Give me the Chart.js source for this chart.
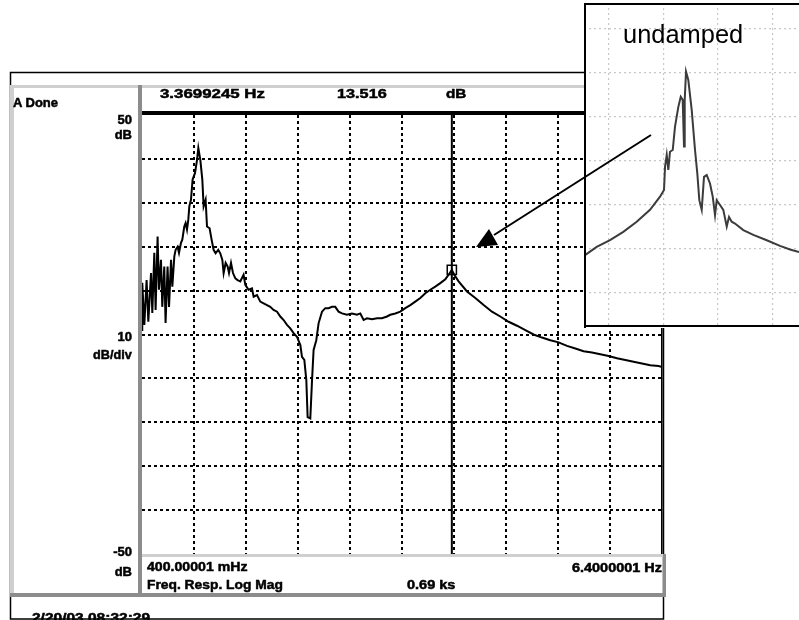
<!DOCTYPE html>
<html><head><meta charset="utf-8">
<script src="https://cdn.jsdelivr.net/npm/chart.js@4.4.1/dist/chart.umd.min.js"></script>
<style>
html,body{margin:0;padding:0;background:#fff;overflow:hidden;}
#wrap{position:relative;width:799px;height:620px;overflow:hidden;}
#wrap canvas{position:absolute;}
.lb{position:absolute;font-family:"Liberation Sans",Arial,sans-serif;font-weight:bold;font-size:13px;line-height:13px;color:#000;white-space:nowrap;transform-origin:left top;-webkit-text-stroke:0.5px #000;}
.rt{transform-origin:right top;}
.thin{-webkit-text-stroke:0;}
</style></head><body>
<div id="wrap">
<canvas id="main" width="799" height="620" style="left:0px;top:0px;"></canvas>
<canvas id="inset" width="215" height="325" style="left:584px;top:3px;"></canvas>
<canvas id="arrow" width="799" height="620" style="left:0px;top:0px;"></canvas>
</div>
<script>
// ---- main trace: frequency (Hz) and magnitude (dB) ----
const freqHz = [
0.400,0.403,0.427,0.453,0.473,0.504,0.519,0.542,0.557,0.580,
0.596,0.619,0.634,0.657,0.672,0.695,0.712,0.735,0.750,0.773,
0.788,0.811,0.827,0.850,0.865,0.888,0.903,0.919,0.934,0.946,
0.965,0.984,1.012,1.035,1.050,1.073,1.096,1.111,1.134,1.150,
1.180,1.203,1.226,1.249,1.280,1.303,1.327,1.342,1.365,1.388,
1.404,1.427,1.450,1.477,1.503,1.534,1.572,1.592,1.630,1.669,
1.688,1.727,1.765,1.803,1.842,1.880,1.918,1.958,1.996,2.034,
2.073,2.111,2.149,2.188,2.227,2.246,2.273,2.296,2.311,2.342,
2.362,2.380,2.411,2.438,2.477,2.515,2.553,2.592,2.630,2.668,
2.708,2.765,2.823,2.881,2.919,2.957,2.996,3.054,3.112,3.169,
3.227,3.265,3.323,3.380,3.438,3.496,3.553,3.611,3.669,3.727,
3.784,3.842,3.900,3.938,3.975,4.003,4.053,4.150,4.246,4.342,
4.438,4.534,4.630,4.727,4.823,4.918,5.015,5.111,5.207,5.304,
5.400,5.495,5.592,5.688,5.784,5.881,5.977,6.072,6.169,6.265,
6.361,6.400];
const magDb = [
1.0,11.8,2.2,12.4,2.9,14.0,4.9,18.6,5.6,22.3,
10.2,17.0,6.3,15.5,2.6,15.5,6.3,17.0,10.9,17.8,
19.3,20.0,18.6,20.9,21.6,24.6,25.4,23.9,26.1,29.2,
30.7,35.3,36.8,39.8,42.5,39.8,35.3,29.2,30.7,24.6,
24.2,21.6,19.3,18.5,19.3,18.5,17.0,14.0,16.3,15.5,
14.0,16.3,14.0,12.8,12.4,12.1,13.6,11.3,10.2,10.5,
8.6,9.0,7.5,7.1,6.7,6.3,5.6,5.2,4.1,3.3,
2.2,1.4,0.3,-0.5,-2.4,-5.1,-5.8,-10.4,-18.8,-19.1,
-10.4,-3.5,-1.3,2.6,5.2,6.0,6.0,6.3,6.3,5.2,
4.8,4.5,4.8,4.5,4.8,3.3,3.7,3.5,3.7,3.7,
4.1,4.5,4.8,5.2,6.0,6.7,7.5,8.3,9.4,10.2,
10.9,11.7,12.6,13.6,14.7,13.6,12.1,9.8,8.3,6.7,
5.2,4.1,2.9,2.0,1.0,0.0,-0.7,-1.3,-1.8,-2.6,
-3.2,-3.8,-4.1,-4.5,-4.9,-5.4,-5.8,-6.2,-6.6,-7.0,
-7.2,-7.4];
// marker
const markerFreq = 3.975;
const markerDb = 14.7;
// axis grid ticks (10 divisions each)
const xTicks = [0.4,1.0,1.6,2.2,2.8,3.4,4.0,4.6,5.2,5.8,6.4];
const yTicks = [-50,-40,-30,-20,-10,0,10,20,30,40,50];
// readout texts
const headerTexts = ["3.3699245 Hz","13.516","dB"];
const yAxisTexts = ["50","dB","10","dB/div","-50","dB"];
const footerTexts = ["400.00001 mHz","6.4000001 Hz","Freq. Resp. Log Mag","0.69 ks"];
const statusText = "A Done";
const stampText = "2/20/03  08:32:29";
// ---- inset ("undamped") trace, in inset grid divisions ----
const insetX = [0.560,0.774,1.018,1.262,1.508,1.752,1.936,2.009,2.028,2.059,2.088,2.119,2.169,2.211,2.272,2.316,2.352,2.376,2.389,2.413,2.455,2.517,2.578,2.620,2.657,2.701,2.743,2.793,2.853,2.903,2.945,2.976,3.037,3.097,3.160,3.202,3.251,3.312,3.464,3.648,3.894,4.138,4.321,4.486];
const insetY = [0.86,1.05,1.20,1.39,1.62,1.89,2.19,2.34,2.87,3.14,2.80,3.21,3.25,3.78,4.23,4.46,4.39,3.33,4.39,5.03,4.84,4.16,3.25,2.72,2.11,1.89,2.64,2.68,2.49,2.19,1.77,2.11,2.00,1.89,1.51,1.73,1.62,1.58,1.43,1.32,1.20,1.07,0.99,0.93];
const insetXTicks = [1,2,3,4];
const insetYTicks = [0,1,2,3,4,5,6];
const insetTitle = "undamped";

// ---------------- main chart ----------------
const frame = {
  id:'frame',
  afterDatasetsDraw(ch){
    const c = ch.ctx, a = ch.chartArea;
    c.save();
    c.strokeStyle='#000'; c.lineWidth=1.5;
    c.strokeRect(10.5,72.5,653,546.5);
    c.fillStyle='#cfcfcf';
    c.fillRect(10,85,656,3);            // top light band
    c.fillRect(10,85,4,512);            // left panel left edge
    c.fillRect(a.left,a.bottom,a.right-a.left+4,3); // bottom panel top edge
    c.fillStyle='#8c8c8c';
    c.fillRect(a.left-4,85,4,512);      // left panel right edge
    c.fillRect(10,593,656,4);           // bottom band
    c.fillRect(a.right+1,a.bottom,3,43); // bottom panel right edge
    c.fillStyle='#000';
    c.fillRect(a.left,a.top-4,a.right-a.left+4,4); // header bottom
    c.fillRect(a.right-1,a.top,1.6,a.bottom-a.top); // plot right edge
    c.restore();
  }
};
const edgeless = (ticks)=> (ctx)=>{
  const v = ctx.tick ? ctx.tick.value : null;
  return (v===ticks[0] || v===ticks[ticks.length-1]) ? 'rgba(0,0,0,0)' : '#000';
};
new Chart(document.getElementById('main'), {
  type:'line',
  data:{datasets:[
    {data:freqHz.map((f,i)=>({x:f,y:magDb[i]})), borderColor:'#000', borderWidth:2, pointRadius:0, tension:0},
    {data:[{x:markerFreq,y:yTicks[0]},{x:markerFreq,y:yTicks[yTicks.length-1]}], borderColor:'#000', borderWidth:2, pointRadius:0},
    {data:[{x:markerFreq,y:markerDb}], showLine:false, pointStyle:'rect', pointRadius:6.5, borderColor:'#000', backgroundColor:'#fff', borderWidth:1.5}
  ]},
  options:{
    responsive:false, animation:false, devicePixelRatio:1,
    layout:{padding:{left:142,top:115,right:137,bottom:66}},
    plugins:{legend:{display:false}, tooltip:{enabled:false}},
    scales:{
      x:{type:'linear', min:xTicks[0], max:xTicks[xTicks.length-1],
         afterBuildTicks:s=>{s.ticks=xTicks.map(v=>({value:v}));},
         afterFit:s=>{s.height=0;},
         ticks:{display:false},
         border:{display:false, dash:[3,3]},
         grid:{color:edgeless(xTicks), lineWidth:2, drawTicks:false, tickLength:0, borderDash:[3,3]}},
      y:{type:'linear', min:yTicks[0], max:yTicks[yTicks.length-1],
         afterBuildTicks:s=>{s.ticks=yTicks.map(v=>({value:v}));},
         afterFit:s=>{s.width=0;},
         ticks:{display:false},
         border:{display:false, dash:[3,3]},
         grid:{color:edgeless(yTicks), lineWidth:2, drawTicks:false, tickLength:0, borderDash:[3,3]}}
    }
  },
  plugins:[frame]
});

// ---------------- inset chart ----------------
const insetFrame = {
  id:'insetFrame',
  beforeDraw(ch){ const c=ch.ctx; c.save(); c.fillStyle='#fff'; c.fillRect(0,0,ch.width,ch.height); c.restore(); },
  afterDraw(ch){
    const c=ch.ctx; c.save(); c.fillStyle='#000';
    c.fillRect(0,0,ch.width,2); c.fillRect(0,0,2,ch.height); c.fillRect(0,ch.height-3,ch.width,2);
    c.restore();
  }
};
new Chart(document.getElementById('inset'), {
  type:'line',
  data:{datasets:[{data:insetX.map((x,i)=>({x:x,y:insetY[i]})), borderColor:'#3c3c3c', borderWidth:2, pointRadius:0, tension:0}]},
  options:{
    responsive:false, animation:false, devicePixelRatio:1,
    layout:{padding:0},
    plugins:{legend:{display:false}, tooltip:{enabled:false}},
    scales:{
      x:{type:'linear', min:0.541, max:4.486,
         afterBuildTicks:s=>{s.ticks=insetXTicks.map(v=>({value:v}));},
         afterFit:s=>{s.height=0;}, ticks:{display:false},
         border:{display:false, dash:[2,3]},
         grid:{color:'#c8c8c8', lineWidth:1.2, drawTicks:false, tickLength:0, borderDash:[2,3]}},
      y:{type:'linear', min:-0.795, max:6.591,
         afterBuildTicks:s=>{s.ticks=insetYTicks.map(v=>({value:v}));},
         afterFit:s=>{s.width=0;}, ticks:{display:false},
         border:{display:false, dash:[2,3]},
         grid:{color:'#c8c8c8', lineWidth:1.2, drawTicks:false, tickLength:0, borderDash:[2,3]}}
    }
  },
  plugins:[insetFrame]
});

// ---------------- arrow annotation ----------------
(function(){
  const c = document.getElementById('arrow').getContext('2d');
  c.strokeStyle='#000'; c.lineWidth=2;
  c.beginPath(); c.moveTo(494,235); c.lineTo(651,135); c.stroke();
  c.fillStyle='#000';
  c.beginPath(); c.moveTo(489,229); c.lineTo(476,247); c.lineTo(498,245); c.closePath(); c.fill();
})();

// ---------------- text labels ----------------
const wrap = document.getElementById('wrap');
function addLabel(txt, opt){
  const d = document.createElement('div');
  d.className = 'lb' + (opt.right!==undefined ? ' rt' : '') + (opt.thin ? ' thin' : '');
  d.textContent = txt;
  if(opt.left!==undefined) d.style.left = opt.left+'px';
  if(opt.right!==undefined) d.style.right = (799-opt.right)+'px';
  d.style.top = opt.top+'px';
  if(opt.size){ d.style.fontSize=opt.size+'px'; d.style.lineHeight=opt.size+'px'; }
  if(opt.weight) d.style.fontWeight = opt.weight;
  if(opt.w) d.dataset.w = opt.w;
  wrap.appendChild(d);
  return d;
}
addLabel(statusText,{left:13,top:96});
addLabel(headerTexts[0],{left:160,top:87,w:105});
addLabel(headerTexts[1],{left:337,top:87,w:50});
addLabel(headerTexts[2],{left:446,top:87,w:20});
addLabel(yAxisTexts[0],{right:132,top:113});
addLabel(yAxisTexts[1],{right:132,top:128});
addLabel(yAxisTexts[2],{right:132,top:330});
addLabel(yAxisTexts[3],{right:132,top:348,w:39});
addLabel(yAxisTexts[4],{right:132,top:545});
addLabel(yAxisTexts[5],{right:132,top:565});
addLabel(footerTexts[0],{left:147,top:560,w:101});
addLabel(footerTexts[1],{right:662,top:561,w:90});
addLabel(footerTexts[2],{left:147,top:578,w:136});
addLabel(footerTexts[3],{left:407,top:578,w:48});
addLabel(stampText,{left:32,top:611,w:118});
addLabel(insetTitle,{left:623,top:22,size:25,weight:'normal',w:120,thin:true});
function fit(){
  wrap.querySelectorAll('.lb').forEach(d=>{
    if(!d.dataset.w) return;
    d.style.transform='none';
    const r = parseFloat(d.dataset.w)/d.offsetWidth;
    d.style.transform = 'scaleX('+r.toFixed(3)+')';
  });
}
if(document.fonts && document.fonts.ready){ document.fonts.ready.then(fit); } fit();
</script>
</body></html>
